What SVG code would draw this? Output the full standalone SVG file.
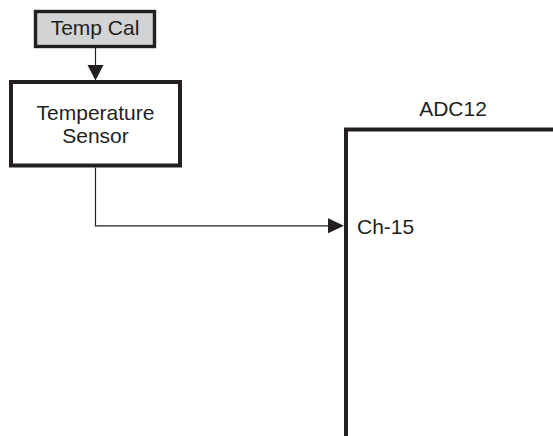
<svg xmlns="http://www.w3.org/2000/svg" width="553" height="436" viewBox="0 0 553 436">
<style>
text{font-family:"Liberation Sans",Arial,sans-serif;font-size:21px;fill:#231f20}
.box{stroke:#231f20}
.wire{fill:none;stroke:#231f20;stroke-width:1.2}
.head{fill:#231f20}
</style>
<rect width="553" height="436" fill="#fff"/>
<g id="tempcal">
<rect class="box" x="35.5" y="11.5" width="119" height="35" fill="#d1d3d4" stroke-width="3.4"/>
<text x="95" y="35" text-anchor="middle">Temp Cal</text>
</g>
<g id="sensor">
<rect class="box" x="11" y="82" width="169" height="83.5" fill="#fff" stroke-width="4"/>
<text x="95.5" y="120" text-anchor="middle">Temperature</text>
<text x="95.5" y="143" text-anchor="middle">Sensor</text>
</g>
<g id="adc12">
<path d="M346 436 V129.5 H553" fill="none" stroke="#231f20" stroke-width="4"/>
<text x="453" y="116" text-anchor="middle">ADC12</text>
<text x="357" y="234">Ch-15</text>
</g>
<g id="connectors">
<path class="wire" d="M95.5 48 V66"/>
<polygon class="head" points="87.5,65 103.5,65 95.5,80.5"/>
<path class="wire" d="M95.5 167.5 V225.8 H330"/>
<polygon class="head" points="328,218.3 328,233.3 344,225.8"/>
</g>
</svg>
